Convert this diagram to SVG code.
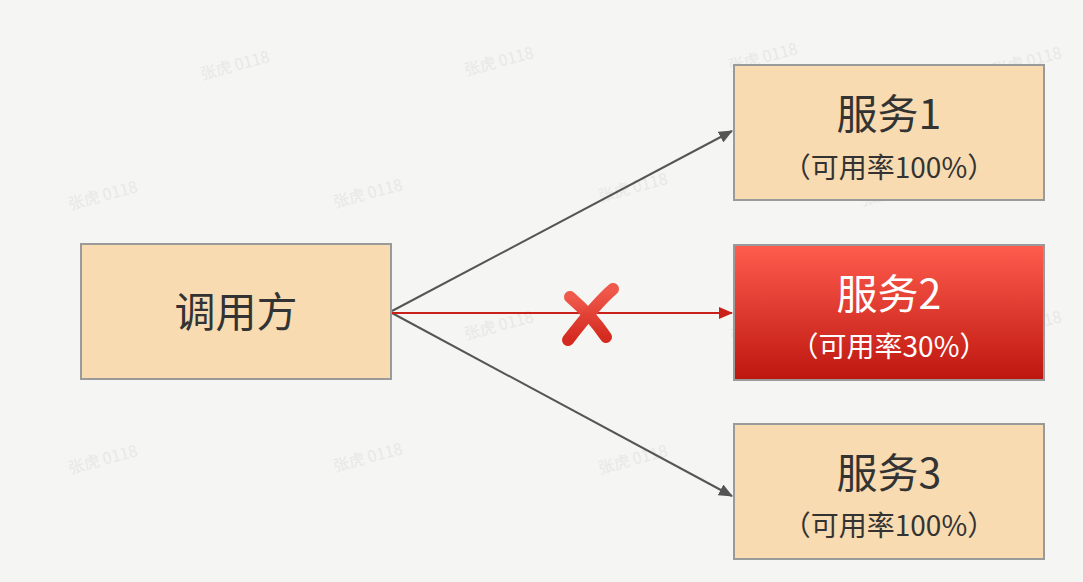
<svg xmlns="http://www.w3.org/2000/svg" width="1083" height="582" viewBox="0 0 1083 582">
<style>
.box{fill:#f8dbb0;stroke:#9a9a9a;stroke-width:2}
.t{font-family:"Noto Sans CJK SC","Noto Sans",sans-serif;fill:#333;text-anchor:middle}
.big{font-size:41px}
.small{font-size:28px}
.w{font-family:"Noto Sans CJK SC","Noto Sans",sans-serif;font-size:16px;fill:#e8e8e6}
.conn{stroke:#555;stroke-width:2;fill:none}
</style>
<defs>
<linearGradient id="red" x1="0" y1="0" x2="0" y2="1">
<stop offset="0" stop-color="#ff5d4e"/>
<stop offset="1" stop-color="#bd160f"/>
</linearGradient>
<linearGradient id="xg" x1="0" y1="0" x2="0" y2="1">
<stop offset="0" stop-color="#f05a4c"/>
<stop offset="1" stop-color="#d42a20"/>
</linearGradient>
<marker id="ag" markerWidth="14" markerHeight="12" refX="13" refY="6" orient="auto" markerUnits="userSpaceOnUse" viewBox="0 0 14 12">
<path d="M0,0 L14,6 L0,12 z" fill="#555"/>
</marker>
<marker id="ar" markerWidth="14" markerHeight="12" refX="13" refY="6" orient="auto" markerUnits="userSpaceOnUse" viewBox="0 0 14 12">
<path d="M0,0 L14,6 L0,12 z" fill="#c9201a"/>
</marker>
</defs>
<rect width="1083" height="582" fill="#f5f5f3"/>
<g id="watermarks">
<text class="w" transform="translate(202,80) rotate(-15)">张虎 0118</text>
<text class="w" transform="translate(466,76) rotate(-15)">张虎 0118</text>
<text class="w" transform="translate(730,72) rotate(-15)">张虎 0118</text>
<text class="w" transform="translate(994,76) rotate(-15)">张虎 0118</text>
<text class="w" transform="translate(70,210) rotate(-15)">张虎 0118</text>
<text class="w" transform="translate(335,208) rotate(-15)">张虎 0118</text>
<text class="w" transform="translate(600,202) rotate(-15)">张虎 0118</text>
<text class="w" transform="translate(862,206) rotate(-15)">张虎 0118</text>
<text class="w" transform="translate(206,342) rotate(-15)">张虎 0118</text>
<text class="w" transform="translate(466,340) rotate(-15)">张虎 0118</text>
<text class="w" transform="translate(732,342) rotate(-15)">张虎 0118</text>
<text class="w" transform="translate(994,340) rotate(-15)">张虎 0118</text>
<text class="w" transform="translate(70,474) rotate(-15)">张虎 0118</text>
<text class="w" transform="translate(335,472) rotate(-15)">张虎 0118</text>
<text class="w" transform="translate(600,474) rotate(-15)">张虎 0118</text>
<text class="w" transform="translate(862,470) rotate(-15)">张虎 0118</text>
</g>
<g id="connectors">
<line class="conn" x1="392" y1="311" x2="732" y2="131" marker-end="url(#ag)"/>
<line class="conn" x1="392" y1="313" x2="732" y2="496" marker-end="url(#ag)"/>
<line x1="392" y1="313" x2="732" y2="313" stroke="#c9201a" stroke-width="2" marker-end="url(#ar)"/>
<g id="xmark">
<path d="M570,297 C585,310 596,322 606,337" stroke="url(#xg)" stroke-width="12" stroke-linecap="round" fill="none"/>
<path d="M613,289 C598,302 585,318 568,340" stroke="url(#xg)" stroke-width="12" stroke-linecap="round" fill="none"/>
</g>
</g>
<g id="caller">
<rect class="box" x="81" y="244" width="310" height="135"/>
<text class="t big" x="236" y="327">调用方</text>
</g>
<g id="service1">
<rect class="box" x="734" y="65" width="310" height="135"/>
<text class="t big" x="889" y="129">服务1</text>
<text class="t small" x="889" y="178">（可用率100%）</text>
</g>
<g id="service2">
<rect x="734" y="245" width="310" height="135" fill="url(#red)" stroke="#9a9a9a" stroke-width="2"/>
<text class="t big" x="889" y="309" style="fill:#fff">服务2</text>
<text class="t small" x="889" y="357" style="fill:#fff">（可用率30%）</text>
</g>
<g id="service3">
<rect class="box" x="734" y="424" width="310" height="135"/>
<text class="t big" x="889" y="488">服务3</text>
<text class="t small" x="889" y="536">（可用率100%）</text>
</g>
</svg>
